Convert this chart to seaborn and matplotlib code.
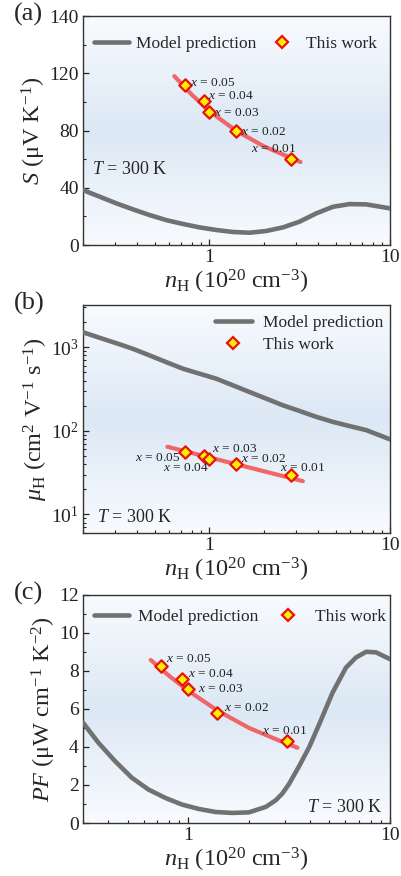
import numpy as np
import matplotlib
matplotlib.use("Agg")
import matplotlib.pyplot as plt
from matplotlib.colors import LinearSegmentedColormap
from matplotlib.lines import Line2D
import seaborn as sns

# ---------------- data ----------------
labels = ["0.05", "0.04", "0.03", "0.02", "0.01"]

# panel (a) Seebeck coefficient
nH_a = [0.73, 0.93, 1.00, 1.40, 2.84]
S_exp = [111.7, 100.7, 92.8, 79.6, 60.2]
fitx_a = [0.64, 0.80, 1.00, 1.40, 2.00, 3.19]
fity_a = [118, 105, 93.5, 80, 69, 58]
model_x_a = [0.2, 0.248, 0.306, 0.378, 0.468, 0.578, 0.715, 0.884, 1.093,
             1.35, 1.67, 2.06, 2.55, 3.15, 3.90, 4.82, 5.96, 7.37, 10]
model_S = [38.4, 33.7, 29.1, 24.9, 20.9, 17.4, 14.7, 12.3, 10.5,
           9.1, 8.6, 9.8, 12.3, 16.3, 22.1, 26.7, 28.6, 28.4, 25.6]

# panel (b) Hall mobility
nH_b = [0.73, 0.93, 1.00, 1.40, 2.84]
mu_exp = [55.3, 50.4, 45.6, 40.5, 29.7]
fitx_b = [0.586, 3.29]
fity_b = [64.5, 25.0]
model_x_b = [0.2, 0.248, 0.306, 0.378, 0.468, 0.578, 0.715, 0.884, 1.093,
             1.35, 1.67, 2.06, 2.55, 3.15, 3.90, 4.82, 5.96, 7.37, 10]
model_mu = [1510, 1294, 1117, 957, 797, 663, 553, 482, 420,
            350, 291, 243, 202, 173, 147, 128, 114, 102, 79]

# panel (c) power factor
nH_c = [0.73, 0.93, 1.00, 1.39, 3.07]
PF_exp = [8.24, 7.57, 7.04, 5.77, 4.33]
fitx_c = [0.65, 0.80, 1.00, 1.40, 2.00, 2.80, 3.47]
fity_c = [8.58, 7.75, 6.95, 5.90, 5.00, 4.35, 3.96]
model_x_c = [0.3, 0.358, 0.433, 0.524, 0.634, 0.768, 0.929, 1.125, 1.36,
             1.65, 1.995, 2.42, 2.71, 2.92, 3.15, 3.54, 3.97, 4.45, 5.18,
             6.04, 6.77, 7.60, 8.51, 10]
model_PF = [5.28, 4.22, 3.25, 2.38, 1.76, 1.32, 0.97, 0.74, 0.58,
            0.53, 0.56, 0.85, 1.20, 1.55, 2.05, 3.00, 4.00, 5.20, 6.86,
            8.18, 8.71, 9.01, 8.98, 8.62]

# ---------------- style ----------------
sns.set_theme(style="white")
plt.rcParams["font.family"] = ["Liberation Serif", "DejaVu Serif"]
plt.rcParams["mathtext.fontset"] = "custom"
plt.rcParams["mathtext.rm"] = "Liberation Serif"
plt.rcParams["mathtext.it"] = "Liberation Serif:italic"
plt.rcParams["mathtext.bf"] = "Liberation Serif:bold"

fig = plt.figure(figsize=(4.01, 8.76), dpi=100)
L, W = 0.207, 0.766
rects = [(L, 0.7203, W, 0.2614), (L, 0.3916, W, 0.2602), (L, 0.0605, W, 0.2603)]
axes = [fig.add_axes(r) for r in rects]

cmap = LinearSegmentedColormap.from_list(
    "bg", ["#f8fbfe", "#dce8f5", "#f8fbfe"])
grad = np.linspace(0, 1, 256).reshape(-1, 1)

GRAY = "#717171"
RED = "#f24f4f"
TICK_FS = 14
LAB_FS = 17.5
ANN_FS = 9.6
LEG_FS = 12.5

def base(ax):
    ax.imshow(grad, cmap=cmap, aspect="auto", extent=[0, 1, 0, 1],
              transform=ax.transAxes, zorder=0)
    for s in ax.spines.values():
        s.set_color("#333333")
        s.set_linewidth(1.0)
    ax.tick_params(which="both", direction="in", left=True, bottom=True,
                   top=False, right=False, labelsize=TICK_FS, colors="#222222",
                   pad=3)
    ax.tick_params(which="major", length=4, width=0.9)
    ax.tick_params(which="minor", length=2.5, width=0.8)
    ax.set_xscale("log")
    ax.xaxis.set_major_formatter(matplotlib.ticker.FuncFormatter(
        lambda v, p: "%g" % v))
    ax.xaxis.set_minor_formatter(matplotlib.ticker.NullFormatter())
    ax.set_xlabel(r"$n_{\rm H}$ (10$^{20}$ cm$^{-3}$)", fontsize=LAB_FS,
                  labelpad=1)

def model(ax, x, y):
    sns.lineplot(x=x, y=y, ax=ax, color=GRAY, lw=3.3, zorder=3,
                 legend=False, sort=False)

def fit(ax, x, y):
    sns.lineplot(x=x, y=y, ax=ax, color=RED, lw=3.0, alpha=0.85,
                 zorder=4, legend=False)

def markers(ax, x, y):
    sns.scatterplot(x=x, y=y, ax=ax, marker="D", s=40, color="#ffee00",
                    edgecolor="#e8120c", linewidth=1.6, zorder=6, legend=False)

def annotate(ax, x, y, offs):
    for xi, yi, t, (dx, dy) in zip(x, y, labels, offs):
        ax.annotate(r"$x$ = " + t, (xi, yi), xytext=(dx, dy),
                    textcoords="offset points", fontsize=ANN_FS, va="center",
                    ha="left", zorder=7, color="#222222")

# ---- (a)
ax = axes[0]
base(ax)
model(ax, model_x_a, model_S)
fit(ax, fitx_a, fity_a)
markers(ax, nH_a, S_exp)
ax.set_xlim(0.2, 10)
ax.set_ylim(0, 160)
ax.set_yticks([0, 40, 80, 120, 160])
ax.set_yticklabels(["0", "40", "80", "120", "140"])
ax.yaxis.set_minor_locator(matplotlib.ticker.MultipleLocator(20))
ax.set_ylabel(r"$S$ (μV K$^{-1}$)", fontsize=LAB_FS, labelpad=1)
annotate(ax, nH_a, S_exp, [(3.5, 1.5), (3, 3.5), (3.5, -0.7), (4, -0.7), (-29, 7)])
ax.text(0.03, 0.33, r"$T$ = 300 K", transform=ax.transAxes,
        fontsize=13, va="center")

# ---- (b)
ax = axes[1]
base(ax)
model(ax, model_x_b, model_mu)
fit(ax, fitx_b, fity_b)
markers(ax, nH_b, mu_exp)
ax.set_xlim(0.2, 10)
ax.set_yscale("log")
ax.set_ylim(6, 3200)
ax.set_ylabel(r"$\mu_{\rm H}$ (cm$^{2}$ V$^{-1}$ s$^{-1}$)", fontsize=LAB_FS,
              labelpad=1)
annotate(ax, nH_b, mu_exp, [(-36, -4), (-29.5, -8.8), (2, 7.2), (4, 3.5), (-8.5, 5)])
ax.text(0.045, 0.07, r"$T$ = 300 K", transform=ax.transAxes,
        fontsize=13, va="center")

# ---- (c)
ax = axes[2]
base(ax)
model(ax, model_x_c, model_PF)
fit(ax, fitx_c, fity_c)
markers(ax, nH_c, PF_exp)
ax.set_xlim(0.3, 10)
ax.set_ylim(0, 12)
ax.set_yticks([0, 2, 4, 6, 8, 10, 12])
ax.yaxis.set_minor_locator(matplotlib.ticker.MultipleLocator(1))
ax.set_ylabel(r"$PF$ (μW cm$^{-1}$ K$^{-2}$)", fontsize=LAB_FS, labelpad=1)
annotate(ax, nH_c, PF_exp, [(3.5, 5), (4, 3.4), (7, 0), (4.5, 4), (-17.7, 7)])
ax.text(0.975, 0.07, r"$T$ = 300 K", transform=ax.transAxes,
        fontsize=13, va="center", ha="right")

# legends
h_model = Line2D([], [], color=GRAY, lw=3.3)
h_work = Line2D([], [], marker="D", ls="none", markersize=6.5,
                markerfacecolor="#ffee00", markeredgecolor="#e8120c",
                markeredgewidth=1.6)
names = ["Model prediction", "This work"]
axes[0].legend([h_model, h_work], names, loc="upper left", ncol=2,
               bbox_to_anchor=(0.013, 0.943), borderaxespad=0, frameon=False,
               fontsize=LEG_FS, handlelength=2.0, columnspacing=0.5,
               handletextpad=0.4)
axes[1].legend([h_model, h_work], names, loc="upper right", frameon=False,
               bbox_to_anchor=(1.0, 0.987), borderaxespad=0,
               fontsize=LEG_FS, handlelength=2.1,
               labelspacing=0.35, handletextpad=0.65)
axes[2].legend([h_model, h_work], names, loc="upper left", ncol=2,
               bbox_to_anchor=(0.013, 0.969), borderaxespad=0, frameon=False,
               fontsize=LEG_FS, handlelength=2.0, columnspacing=0.7,
               handletextpad=0.55)

for lab, y in zip(["(a)", "(b)", "(c)"], [0.983, 0.654, 0.323]):
    fig.text(0.035, y, lab, fontsize=19, va="center", ha="left")

fig.savefig("out.png", dpi=100)
